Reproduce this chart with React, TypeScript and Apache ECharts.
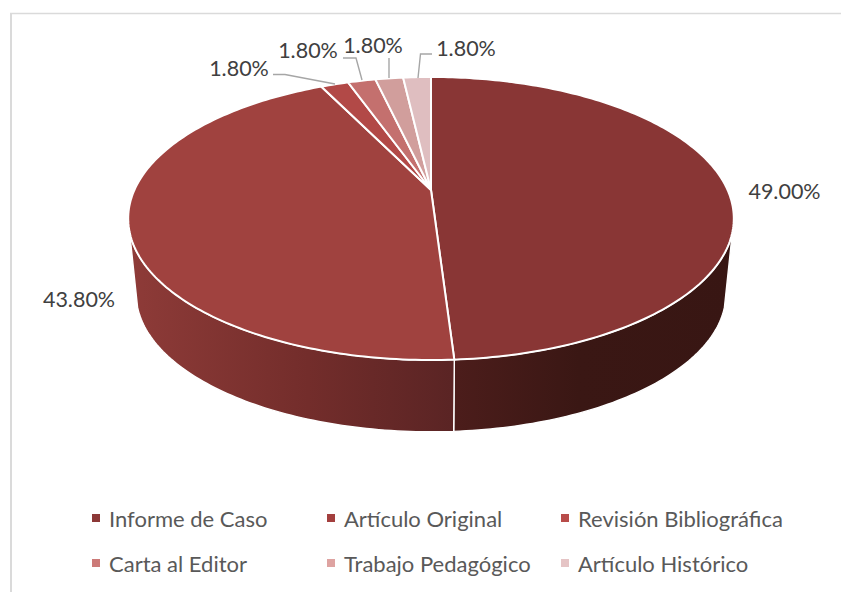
import React, { useEffect, useRef } from "react";
import * as echarts from "echarts";

const categories = ["Informe de Caso", "Artículo Original", "Revisión Bibliográfica", "Carta al Editor", "Trabajo Pedagógico", "Artículo Histórico"];
const shares = [49.0, 43.8, 1.8, 1.8, 1.8, 1.8];
const faceColors = ["#893635", "#A0423F", "#B24947", "#C4706E", "#D19E9C", "#DFBEC0"];
const legendColors = ["#8C3837", "#A33F3E", "#B84C4A", "#CC7A78", "#DEA3A1", "#E5C4C5"];

// Perspective model of the pie disc
const CX = 431;
const TILT = 0.2014;
const TOP = { cy: 190, a: 296.6, b: 135.8 };
const BOTTOM = { cy: 266, a: 288.8, b: 132.4 };
const SILHOUETTE = [107, 253]; // degrees clockwise from 12 o'clock, visible side wall

// Label layout: text centre and leader polyline (empty when no leader)
const labelLayout: { x: number; y: number; leader: number[][] }[] = [
  { x: 784.5, y: 191, leader: [] },
  { x: 79, y: 299, leader: [] },
  { x: 239, y: 68, leader: [[273, 74.5], [285, 74.5], [335, 84]] },
  { x: 308, y: 50, leader: [[343, 58], [356, 58], [362, 80]] },
  { x: 373, y: 45, leader: [[389, 58], [389, 78]] },
  { x: 466, y: 48, leader: [[432, 54], [420.5, 54], [418, 78]] },
];
const legendLayout = [
  { left: 92, top: 507 }, { left: 327, top: 507 }, { left: 561, top: 507 },
  { left: 92, top: 552 }, { left: 327, top: 552 }, { left: 561, top: 552 },
];

function project(deg: number, disc: { cy: number; a: number; b: number }): number[] {
  const t = (deg * Math.PI) / 180;
  const X = Math.sin(t);
  const Y = -Math.cos(t);
  const w = 1 - TILT * Y;
  return [CX + (disc.a * X) / w, disc.cy + (disc.b * Y) / w];
}

function arc(from: number, to: number, disc: { cy: number; a: number; b: number }): number[][] {
  const n = Math.max(2, Math.ceil(Math.abs(to - from)));
  const pts: number[][] = [];
  for (let i = 0; i <= n; i++) pts.push(project(from + ((to - from) * i) / n, disc));
  return pts;
}

const total = shares.reduce((s, v) => s + v, 0);
const starts = shares.map((_, i) => shares.slice(0, i).reduce((s, v) => s + v, 0));

function wallGradient(i: number) {
  return i === 0
    ? new echarts.graphic.LinearGradient(0, 0, 1, 0, [
        { offset: 0, color: "#4C1D1B" },
        { offset: 0.45, color: "#3A1714" },
        { offset: 1, color: "#381613" },
      ])
    : new echarts.graphic.LinearGradient(0, 0, 1, 0, [
        { offset: 0, color: "#8E3B38" },
        { offset: 0.55, color: "#732D2B" },
        { offset: 1, color: "#5A2424" },
      ]);
}

function renderSlice(i: number) {
  return (_params: any, api: any) => {
    const value = api.value(0) as number;
    const a0 = (starts[i] / total) * 360;
    const a1 = a0 + (value / total) * 360;
    const children: any[] = [];
    const wallFrom = Math.max(a0, SILHOUETTE[0]);
    const wallTo = Math.min(a1, SILHOUETTE[1]);
    if (wallTo > wallFrom) {
      children.push({
        type: "polygon",
        shape: { points: [...arc(wallFrom, wallTo, TOP), ...arc(wallTo, wallFrom, BOTTOM)] },
        style: { fill: wallGradient(i), stroke: "#FFFFFF", lineWidth: 1.4 },
      });
    }
    children.push({
      type: "polygon",
      shape: { points: [[CX, TOP.cy], ...arc(a0, a1, TOP)] },
      style: { fill: faceColors[i], stroke: "#FFFFFF", lineWidth: 2 },
    });
    const lay = labelLayout[i];
    if (lay.leader.length) {
      children.push({
        type: "polyline",
        shape: { points: lay.leader },
        style: { fill: "none", stroke: "#A6A6A6", lineWidth: 1.4 },
      });
    }
    children.push({
      type: "text",
      x: lay.x,
      y: lay.y,
      style: {
        text: value.toFixed(2) + "%",
        fill: "#404040",
        font: '21.5px Lato, "Open Sans", sans-serif',
        align: "center",
        verticalAlign: "middle",
      },
    });
    return { type: "group", children };
  };
}

export default function App() {
  const ref = useRef<HTMLDivElement>(null);
  useEffect(() => {
    const chart = echarts.init(ref.current!, undefined, { renderer: "svg" });
    chart.setOption({
      animation: false,
      backgroundColor: "#FFFFFF",
      graphic: [
        { type: "line", shape: { x1: 10, y1: 13.5, x2: 841, y2: 13.5 }, style: { stroke: "#DADADA", lineWidth: 1.5 } },
        { type: "line", shape: { x1: 11, y1: 13, x2: 11, y2: 592 }, style: { stroke: "#DADADA", lineWidth: 2 } },
      ],
      legend: categories.map((name, i) => ({
        left: legendLayout[i].left,
        top: legendLayout[i].top,
        padding: 0,
        icon: "rect",
        itemWidth: 8,
        itemHeight: 8,
        selectedMode: false,
        data: [{ name, itemStyle: { color: legendColors[i] } }],
        textStyle: { color: "#595959", fontSize: 22, fontFamily: 'Lato, "Open Sans", sans-serif', padding: [0, 0, 0, 4] },
      })),
      series: categories.map((name, i) => ({
        type: "custom",
        name,
        coordinateSystem: "none",
        silent: true,
        itemStyle: { color: faceColors[i] },
        data: [[shares[i]]],
        renderItem: renderSlice(i),
      })),
    });
    return () => chart.dispose();
  }, []);
  return <div ref={ref} style={{ position: "fixed", left: 0, top: 0, width: 841, height: 592 }} />;
}
